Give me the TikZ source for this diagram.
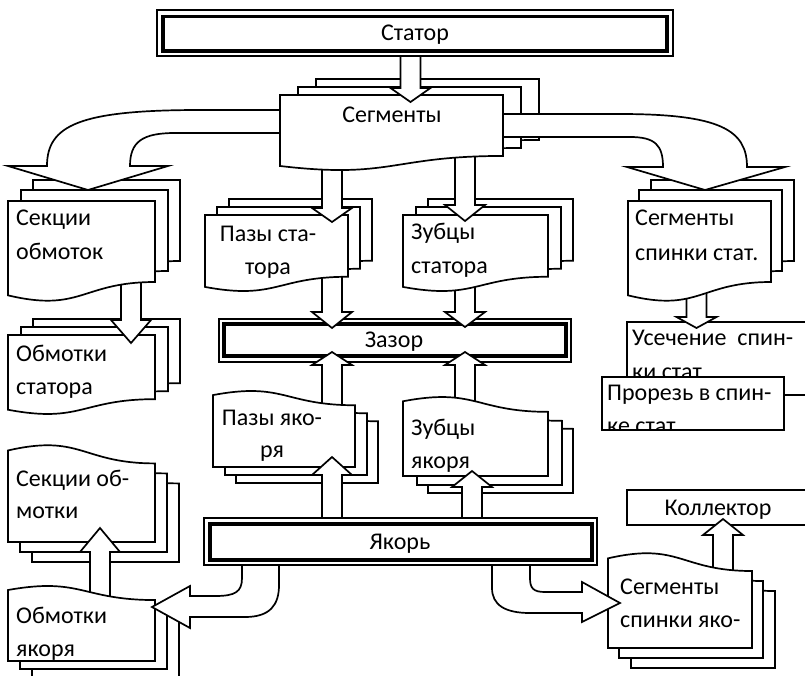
\documentclass[tikz,border=0pt]{standalone}
\usepackage{fontspec}
\setmainfont{Carlito}
\usetikzlibrary{calc}
\newcommand{\lblfont}{\fontsize{24}{34}\selectfont}
% one page of a document symbol, wavy edge at the bottom
\newcommand{\docpage}[4]{%
  \pgfmathsetmacro\pxR{#1+#3}\pgfmathsetmacro\pxM{#1+0.5*#3}%
  \pgfmathsetmacro\pyR{#2+0.802*#4}\pgfmathsetmacro\pyC{#2+1.107*#4}\pgfmathsetmacro\pyL{#2+0.934*#4}%
  \draw[docline] (#1,#2) -- (\pxR,#2) -- (\pxR,\pyR) .. controls (\pxM,\pyR) and (\pxM,\pyC) .. (#1,\pyL) -- cycle;}
% the same page turned upside down, wavy edge at the top
\newcommand{\docpageflip}[4]{%
  \pgfmathsetmacro\pxR{#1+#3}\pgfmathsetmacro\pxM{#1+0.5*#3}%
  \pgfmathsetmacro\pyR{#2+0.198*#4}\pgfmathsetmacro\pyC{#2-0.107*#4}\pgfmathsetmacro\pyL{#2+0.066*#4}\pgfmathsetmacro\pyB{#2+#4}%
  \draw[docline] (#1,\pyB) -- (\pxR,\pyB) -- (\pxR,\pyR) .. controls (\pxM,\pyR) and (\pxM,\pyC) .. (#1,\pyL) -- cycle;}
% vertical block arrow: #1 start, #2 tip, #3 head length
\newcommand{\blockarrow}[3]{%
  \coordinate (bahead) at ($(#2)!#3!(#1)$);
  \draw[barrow] ($(#1)+(-10,0)$) -- ($(bahead)+(-10,0)$) -- ($(bahead)+(-20,0)$) -- (#2)
    -- ($(bahead)+(20,0)$) -- ($(bahead)+(10,0)$) -- ($(#1)+(10,0)$) -- cycle;}
\tikzset{
  docline/.style={draw=black, fill=white, line width=1.7pt, line join=miter},
  barrow/.style={draw=black, fill=white, line width=1.7pt, line join=miter},
  plainbox/.style={draw=black, fill=white, line width=1.7pt},
  outerframe/.style={draw=black, fill=white, line width=2pt},
  innerframe/.style={draw=black, line width=3.5pt},
  lbl/.style={inner sep=0pt, font=\lblfont, text=black},
}
\begin{document}
\begin{tikzpicture}[x=1pt,y=-1pt]
\useasboundingbox (0,0) rectangle (805,675);
\fill[white] (0,0) rectangle (805,675);

% ---------- arrow end points ----------
\coordinate (a1s) at (410.5,40);  \coordinate (a1t) at (410.5,102);
\coordinate (a2s) at (332,150);   \coordinate (a2t) at (332,222);
\coordinate (a3s) at (465,145);   \coordinate (a3t) at (465,221);
\coordinate (a4s) at (131,270);   \coordinate (a4t) at (131,343);
\coordinate (a5s) at (332,265);   \coordinate (a5t) at (332,328);
\coordinate (a6s) at (465,270);   \coordinate (a6t) at (465,327);
\coordinate (a7s) at (696.5,285); \coordinate (a7t) at (696.5,328);
\coordinate (a8s) at (332,412);   \coordinate (a8t) at (332,352);
\coordinate (a9s) at (465,420);   \coordinate (a9t) at (465,352);
\coordinate (a10s) at (332,535);  \coordinate (a10t) at (332,457);
\coordinate (a11s) at (472,535);  \coordinate (a11t) at (472,471);
\coordinate (a12s) at (100,605);  \coordinate (a12t) at (100,528);
\coordinate (a13s) at (723,578);  \coordinate (a13t) at (723,519);

% ---------- lowest layer: final blocks ----------
% gap
\draw[outerframe] (218.5,318.5) rectangle (570.5,361.5);
\draw[innerframe] (224,324) rectangle (566,356);
\node[lbl,anchor=base] (zazor) at (394,347) {Зазор};
% stator windings
\docpage{33}{319}{147}{80}
\docpage{21}{327}{147}{80}
\docpage{8}{335}{147}{80}
\node[lbl,anchor=base west] (obst1) at (16,361) {Обмотки};
\node[lbl,anchor=base west] (obst2) at (16,394) {статора};
% back cut-off and slots in the back
\draw[plainbox] (627,322) rectangle (830,395);
\node[lbl,anchor=base west] (usech1) at (632,345) {Усечение\ \ спин-};
\begin{scope}
  \clip (628,323) rectangle (804,377);
  \node[lbl,anchor=base west] (usech2) at (632,379) {ки стат.};
\end{scope}
\draw[plainbox] (602,377) rectangle (784,430);
\begin{scope}
  \clip (603,378) rectangle (783,429);
  \node[lbl,anchor=base west] (prorez1) at (607,400) {Прорезь в спин-};
  \node[lbl,anchor=base west] (prorez2) at (607,433) {ке стат.};
\end{scope}
% armature coil sections
\docpageflip{32}{464}{147}{98}
\docpageflip{20}{454}{147}{98}
\docpageflip{8}{444}{147}{98}
\node[lbl,anchor=base west] (sekya1) at (16,486) {Секции об-};
\node[lbl,anchor=base west] (sekya2) at (16,518) {мотки};
% commutator
\draw[plainbox] (627,490) rectangle (830,525);
\node[lbl,anchor=base] (kollektor) at (718,515) {Коллектор};

% ---------- arrows into the final blocks ----------
\blockarrow{a5s}{a5t}{16pt}
\blockarrow{a6s}{a6t}{15pt}
\blockarrow{a8s}{a8t}{13pt}
\blockarrow{a9s}{a9t}{13pt}
\blockarrow{a4s}{a4t}{23pt}
\blockarrow{a7s}{a7t}{11pt}
\blockarrow{a12s}{a12t}{24pt}
\blockarrow{a13s}{a13t}{16pt}

% ---------- middle blocks ----------
% stator slots
\docpage{229}{199}{143}{77}
\docpage{217}{207}{143}{77}
\docpage{205}{215}{143}{77}
\node[lbl,anchor=base] (pazst1) at (268,241) {Пазы ста-};
\begin{scope}
  \clip (206,216) rectangle (347,277);
  \node[lbl,anchor=base] (pazst2) at (268,274) {тора};
\end{scope}
% stator teeth
\docpage{428}{199}{145}{77}
\docpage{416}{207}{145}{77}
\docpage{403}{215}{145}{77}
\node[lbl,anchor=base west] (zubst1) at (411,239) {Зубцы};
\begin{scope}
  \clip (404,216) rectangle (547,277);
  \node[lbl,anchor=base west] (zubst2) at (411,273) {статора};
\end{scope}
% armature slots
\docpageflip{236}{406}{142}{77}
\docpageflip{225}{398}{142}{77}
\docpageflip{213}{390}{142}{77}
\node[lbl,anchor=base] (pazya1) at (272,425) {Пазы яко-};
\node[lbl,anchor=base] (pazya2) at (272,457) {ря};
% armature teeth
\docpageflip{428}{413}{145}{80}
\docpageflip{417}{405}{145}{80}
\docpageflip{403}{396}{145}{80}
\node[lbl,anchor=base west] (zubya1) at (411,435) {Зубцы};
\node[lbl,anchor=base west] (zubya2) at (411,468) {якоря};
% stator winding sections
\docpage{33}{180}{147}{101}
\docpage{21}{190}{147}{101}
\docpage{8}{201}{147}{101}
\node[lbl,anchor=base west] (sekst1) at (16,225) {Секции};
\node[lbl,anchor=base west] (sekst2) at (16,259) {обмоток};
% stator back segments
\docpage{651}{180}{143}{101}
\docpage{639}{190}{143}{101}
\docpage{628}{201}{143}{101}
\node[lbl,anchor=base west] (segsp1) at (635,225) {Сегменты};
\node[lbl,anchor=base west] (segsp2) at (635,260) {спинки стат.};
% armature windings
\docpageflip{32}{601}{147}{76}
\docpageflip{20}{593}{147}{76}
\docpageflip{8}{585}{147}{76}
\node[lbl,anchor=base west] (obya1) at (16,623) {Обмотки};
\node[lbl,anchor=base west] (obya2) at (16,656) {якоря};
% armature back segments
\docpageflip{631}{572}{144}{96}
\docpageflip{619}{562}{144}{96}
\docpageflip{608}{552}{144}{96}
\node[lbl,anchor=base west] (segya1) at (620,594) {Сегменты};
\node[lbl,anchor=base west] (segya2) at (620,627) {спинки яко-};

% ---------- segments: back pages ----------
\docpage{316}{79}{223}{76}
\docpage{298}{87}{223}{76}

% ---------- arrows out of the segments and the armature ----------
\blockarrow{a2s}{a2t}{14pt}
\blockarrow{a3s}{a3t}{16pt}
\draw[barrow] (290,110) -- (200,110) .. controls (80,110) and (47,125) .. (47,166)
  -- (8,166) -- (88,190) -- (168,166) -- (130,166)
  .. controls (130,142) and (142,133) .. (175,133) -- (290,133) -- cycle;
\draw[barrow] (495,114) -- (620,114) .. controls (720,114) and (747,130) .. (747,167)
  -- (785,167) -- (705,190) -- (627,167) -- (663,167)
  .. controls (663,145) and (655,137) .. (630,137) -- (495,137) -- cycle;
\blockarrow{a10s}{a10t}{18pt}
\blockarrow{a11s}{a11t}{16pt}
\draw[barrow] (242,550) -- (242,578) .. controls (242,592) and (235,596) .. (215,596)
  -- (190,596) -- (190,586) -- (152,607) -- (190,628) -- (190,617) -- (245,617)
  .. controls (270,617) and (279,605) .. (279,585) -- (279,550) -- cycle;
\draw[barrow] (492,550) -- (492,588) .. controls (492,605) and (505,613) .. (530,613)
  -- (582,613) -- (582,622) -- (620,603) -- (582,582) -- (582,592) -- (545,592)
  .. controls (533,592) and (530,588) .. (530,578) -- (530,550) -- cycle;

% ---------- segments (front page) and armature ----------
\docpage{280}{95}{223}{76}
\node[lbl,anchor=base] (segm) at (392,122) {Сегменты};
\draw[outerframe] (204,518) rectangle (597,565);
\draw[innerframe] (210,524) rectangle (592,560);
\node[lbl,anchor=base] (yakor) at (400,549) {Якорь};

% ---------- stator ----------
\blockarrow{a1s}{a1t}{14pt}
\draw[outerframe] (157,10) rectangle (673,56);
\draw[innerframe] (163,16.5) rectangle (667,51);
\node[lbl,anchor=base] (stator) at (415,40) {Статор};
\end{tikzpicture}
\end{document}
